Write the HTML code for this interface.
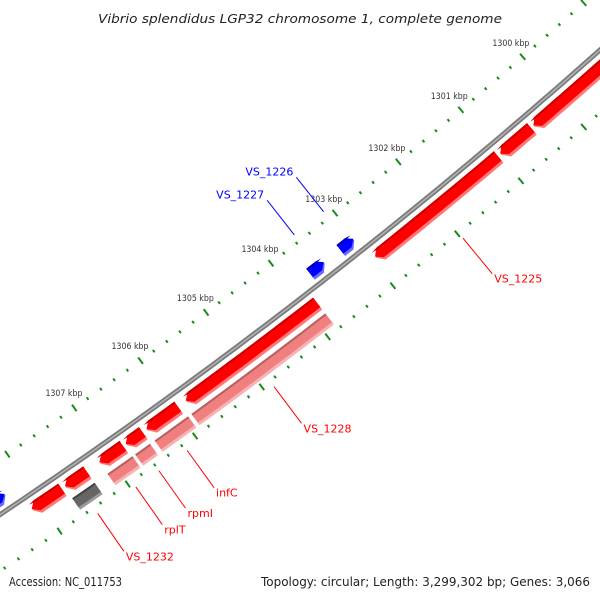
<!DOCTYPE html>
<html><head><meta charset="utf-8"><title>Vibrio splendidus LGP32 chromosome 1 map</title>
<style>html,body{margin:0;padding:0;background:#fff;}svg{display:block;}</style></head>
<body>
<svg id="map" xmlns="http://www.w3.org/2000/svg" width="600" height="600" viewBox="0 0 600 600" font-family="'DejaVu Sans','Liberation Sans',sans-serif">
<rect width="600" height="600" fill="#fff"/>
<g id="ticks"></g>
<g id="backbone"></g>
<g id="features"></g>
<g id="labels"></g>
<text x="300" y="23" text-anchor="middle" font-style="italic" font-size="12.5" fill="#222" textLength="404" lengthAdjust="spacingAndGlyphs">Vibrio splendidus LGP32 chromosome 1, complete genome</text>
<text x="9" y="586" font-size="12" fill="#222" textLength="113" lengthAdjust="spacingAndGlyphs">Accession: NC_011753</text>
<text x="590" y="586" text-anchor="end" font-size="12" fill="#222" textLength="329" lengthAdjust="spacingAndGlyphs">Topology: circular; Length: 3,299,302 bp; Genes: 3,066</text>
</svg>
<script>
// ---- data ----
const tickLabelKbp = [1300, 1301, 1302, 1303, 1304, 1305, 1306, 1307];
const featStart = [1299.0, 1300.49, 1301.02, 1303.85, 1305.96, 1306.49, 1306.78, 1307.32, 1307.69,
                   1303.85, 1305.93, 1306.50, 1306.76, 1307.32,
                   1303.02, 1303.48, 1308.30];
const featEnd   = [1300.45, 1300.98, 1302.95, 1305.84, 1306.43, 1306.74, 1307.13, 1307.64, 1308.13,
                   1305.88, 1306.43, 1306.72, 1307.13, 1307.65,
                   1303.23, 1303.70, 1308.80];
const featKind  = ['cds','cds','cds','cds','cds','cds','cds','cds','cds',
                   'rna','rna','rna','rna','other',
                   'rev','rev','rev'];
const labelText = ['VS_1225','VS_1228','infC','rpmI','rplT','VS_1232','VS_1226','VS_1227'];
const labelKbp  = [1301.98, 1304.88, 1306.18, 1306.60, 1306.94, 1307.50, 1303.10, 1303.56];
const labelSide = ['in','in','in','in','in','in','out','out'];

// ---- geometry ----
const CX = -3056, CY = -4051, A0 = 50.65, DA = 0.856;
const R_BB = 5494, R_T1 = 5448, R_T2 = 5541;
const NS = 'http://www.w3.org/2000/svg';
function ang(k){ return (A0 + (k - 1302) * DA) * Math.PI / 180; }
function pt(k, r){ const a = ang(k); return [CX + r * Math.cos(a), CY + r * Math.sin(a)]; }
function mk(tag, attrs, parent){ const e = document.createElementNS(NS, tag); for (const k in attrs) e.setAttribute(k, attrs[k]); parent.appendChild(e); return e; }
function arcPts(k1, k2, r){ const out = []; const n = Math.max(2, Math.ceil(Math.abs(k2 - k1) * 6)); for (let i = 0; i <= n; i++){ out.push(pt(k1 + (k2 - k1) * i / n, r)); } return out; }

// backbone
const bb = document.getElementById('backbone');
const bbd = 'M' + arcPts(1298, 1310, R_BB).map(p => p[0].toFixed(1) + ',' + p[1].toFixed(1)).join(' L');
const bb1 = mk('path', {d: bbd, fill: 'none', stroke: '#7a7a7a', 'stroke-width': 5}, bb);


const bb2 = mk('path', {d: bbd, fill: 'none', stroke: '#b0b0b0', 'stroke-width': 1.6}, bb);



// ticks
const tg = document.getElementById('ticks');
for (let i = 0; i <= 60; i++){
  const k = 1298 + i * 0.2;
  const major = (i % 5 === 0);
  const len = major ? 4 : 1.5;
  [R_T1, R_T2].forEach(rc => {
    const a = pt(k, rc - len), b = pt(k, rc + len);
    const t = mk('line', {x1: a[0], y1: a[1], x2: b[0], y2: b[1], stroke: '#1a8a1a', 'stroke-width': 2}, tg);
    
    
  });
}
tickLabelKbp.forEach(k => {
  const p = pt(k, 5430);
  const t = mk('text', {x: p[0], y: p[1] + 3, 'text-anchor': 'middle', 'font-size': 9, fill: '#333', textLength: 37, lengthAdjust: 'spacingAndGlyphs'}, tg);
  t.textContent = k + ' kbp';
  
  
});

// features
const styles = {
  cds:   {r0: 5501, r1: 5516, tip: 'end',   light: '#ff7777', main: '#ff0000', dark: '#c80000'},
  rna:   {r0: 5521, r1: 5535, tip: 'none',  light: '#f7b3b3', main: '#f08080', dark: '#b86060'},
  other: {r0: 5521, r1: 5535, tip: 'none',  light: '#9a9a9a', main: '#666666', dark: '#444444'},
  rev:   {r0: 5474, r1: 5488, tip: 'start', light: '#6a6aff', main: '#0000ff', dark: '#0000b0'}
};
function shapePath(k1, k2, r0, r1, tip){
  const t = 0.08;
  let pts = [];
  const rm = (r0 + r1) / 2;
  if (tip === 'end'){
    pts = pts.concat(arcPts(k1, k2 - t, r0)); pts.push(pt(k2, rm)); pts = pts.concat(arcPts(k2 - t, k1, r1));
  } else if (tip === 'start'){
    pts.push(pt(k1, rm)); pts = pts.concat(arcPts(k1 + t, k2, r0)); pts = pts.concat(arcPts(k2, k1 + t, r1));
  } else {
    pts = pts.concat(arcPts(k1, k2, r0)); pts = pts.concat(arcPts(k2, k1, r1));
  }
  return 'M' + pts.map(p => p[0].toFixed(1) + ',' + p[1].toFixed(1)).join(' L') + 'Z';
}
const fg = document.getElementById('features');
for (let i = 0; i < featStart.length; i++){
  const s = styles[featKind[i]];
  const g = mk('g', {}, fg);
  
  
  mk('path', {d: shapePath(featStart[i], featEnd[i], s.r0, s.r1, s.tip), fill: s.light}, g);
  mk('path', {d: shapePath(featStart[i], featEnd[i], s.r0, s.r1 - 3, s.tip), fill: s.main}, g);
  mk('path', {d: shapePath(featStart[i], featEnd[i], s.r0, s.r0 + 2, s.tip), fill: s.dark}, g);
}

// labels
const lg = document.getElementById('labels');
for (let i = 0; i < labelText.length; i++){
  const inner = labelSide[i] === 'in';
  const col = inner ? '#ff0000' : '#0000ff';
  const a = pt(labelKbp[i], inner ? 5548 : 5440), b = pt(labelKbp[i], inner ? 5594 : 5396);
  const ln = mk('line', {x1: a[0], y1: a[1], x2: b[0], y2: b[1], stroke: col, 'stroke-width': 1}, lg);
  
  
  const tx = mk('text', inner ? {x: b[0] + 2, y: b[1] + 9, fill: col, 'font-size': 11} : {x: b[0] - 3, y: b[1] - 2, 'text-anchor': 'end', fill: col, 'font-size': 11}, lg);
  tx.textContent = labelText[i];
  
  
}
</script>
</body></html>
